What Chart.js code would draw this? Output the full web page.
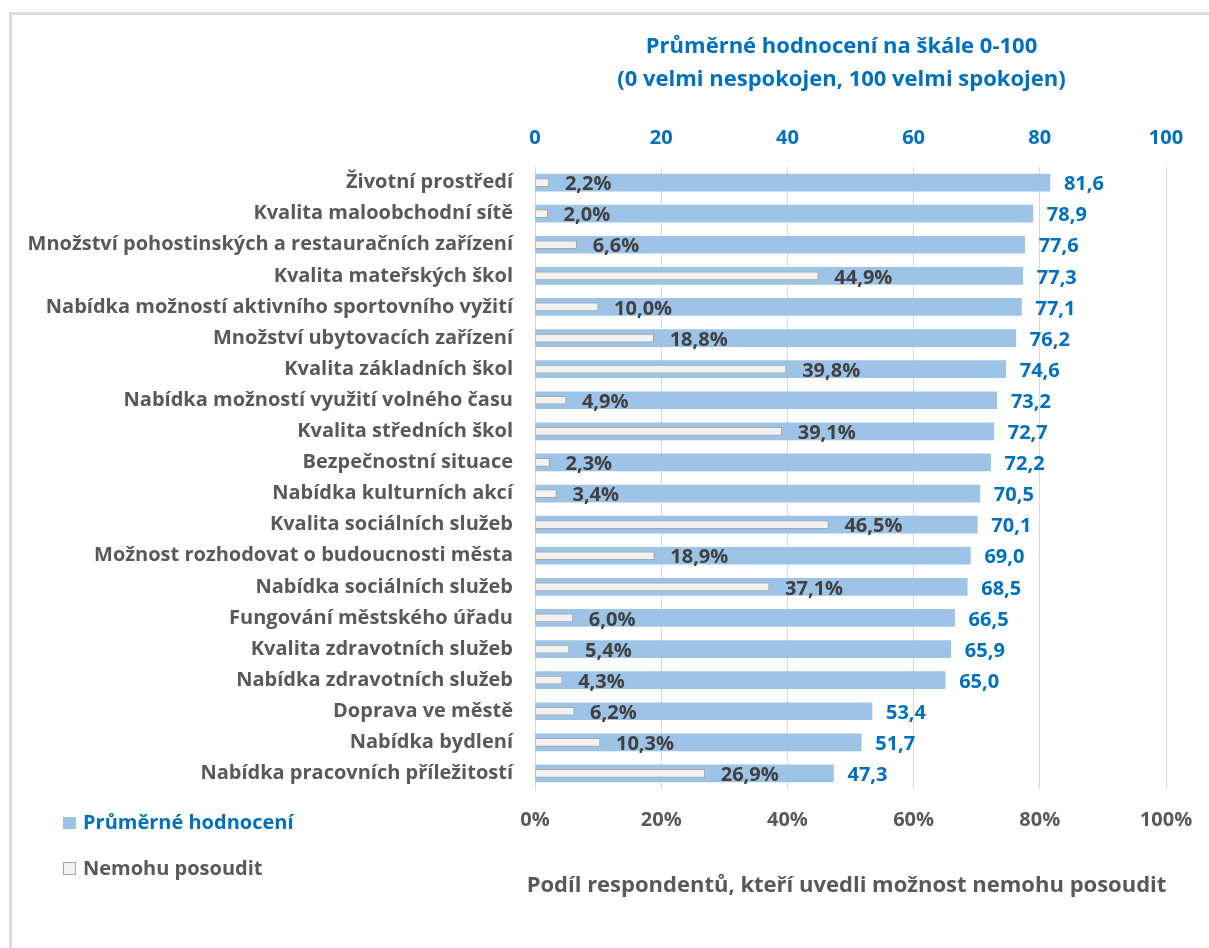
<!DOCTYPE html>
<html>
<head>
<meta charset="utf-8">
<script src="https://cdn.jsdelivr.net/npm/chart.js@4/dist/chart.umd.min.js"></script>
<style>
  html, body { margin: 0; padding: 0; background: #fff; }
  #wrap { position: relative; width: 1209px; height: 948px; overflow: hidden; }
  #frame { position: absolute; left: 9px; top: 12px; width: 1300px; height: 1000px;
           border-top: 3px solid #dcdcdc; border-left: 3px solid #dcdcdc; box-sizing: border-box; }
  canvas { position: absolute; left: 0; top: 0; }
</style>
</head>
<body>
<div id="wrap">
  <div id="frame"></div>
  <canvas id="c" width="1209" height="948"></canvas>
</div>
<script>
const categories = [
  "Životní prostředí",
  "Kvalita maloobchodní sítě",
  "Množství pohostinských a restauračních zařízení",
  "Kvalita mateřských škol",
  "Nabídka možností aktivního sportovního vyžití",
  "Množství ubytovacích zařízení",
  "Kvalita základních škol",
  "Nabídka možností využití volného času",
  "Kvalita středních škol",
  "Bezpečnostní situace",
  "Nabídka kulturních akcí",
  "Kvalita sociálních služeb",
  "Možnost rozhodovat o budoucnosti města",
  "Nabídka sociálních služeb",
  "Fungování městského úřadu",
  "Kvalita zdravotních služeb",
  "Nabídka zdravotních služeb",
  "Doprava ve městě",
  "Nabídka bydlení",
  "Nabídka pracovních příležitostí"
];
const ratings = [81.6, 78.9, 77.6, 77.3, 77.1, 76.2, 74.6, 73.2, 72.7, 72.2, 70.5, 70.1, 69.0, 68.5, 66.5, 65.9, 65.0, 53.4, 51.7, 47.3];
const cannotJudge = [2.2, 2.0, 6.6, 44.9, 10.0, 18.8, 39.8, 4.9, 39.1, 2.3, 3.4, 46.5, 18.9, 37.1, 6.0, 5.4, 4.3, 6.2, 10.3, 26.9];
const topTicks = [0, 20, 40, 60, 80, 100];
const bottomTicks = ["0%", "20%", "40%", "60%", "80%", "100%"];
const seriesNames = ["Průměrné hodnocení", "Nemohu posoudit"];
const titleLines = ["Průměrné hodnocení na škále 0-100", "(0 velmi nespokojen, 100 velmi spokojen)"];
const bottomTitle = "Podíl respondentů, kteří uvedli možnost nemohu posoudit";

const FONT = "'Open Sans'";
const BLUE = "#0070c0";
const GRAY = "#595959";
const DARK = "#404040";

const fmt = v => v.toFixed(1).replace('.', ',');

const labelsPlugin = {
  id: 'labels',
  afterDatasetsDraw(chart) {
    const ctx = chart.ctx;
    ctx.save();
    ctx.textBaseline = 'middle';
    ctx.textAlign = 'left';
    const m0 = chart.getDatasetMeta(0);
    ctx.font = `bold 20px ${FONT}`;
    ctx.fillStyle = BLUE;
    m0.data.forEach((el, i) => {
      ctx.fillText(fmt(ratings[i]), el.x + 14, el.y + 2);
    });
    const m1 = chart.getDatasetMeta(1);
    ctx.fillStyle = DARK;
    m1.data.forEach((el, i) => {
      ctx.fillText(fmt(cannotJudge[i]) + '%', el.x + 16, el.y + 2);
    });
    ctx.restore();
  },
  afterDraw(chart) {
    const ctx = chart.ctx;
    const a = chart.chartArea;
    const cx = (a.left + a.right) / 2;
    ctx.save();
    ctx.textAlign = 'center';
    ctx.textBaseline = 'middle';
    ctx.font = `bold 22px ${FONT}`;
    ctx.fillStyle = BLUE;
    ctx.fillText(titleLines[0], cx - 9, a.top - 120);
    ctx.fillText(titleLines[1], cx - 9, a.top - 87);
    ctx.fillStyle = GRAY;
    ctx.fillText(bottomTitle, cx - 4, a.bottom + 97);
    // legend
    ctx.textAlign = 'left';
    ctx.font = `bold 20px ${FONT}`;
    ctx.fillStyle = '#9dc3e6';
    ctx.fillRect(63, 817, 13, 12);
    ctx.fillStyle = BLUE;
    ctx.fillText(seriesNames[0], 83, 823);
    ctx.fillStyle = '#f2f2f2';
    ctx.fillRect(63.5, 862.5, 12, 12);
    ctx.strokeStyle = '#a6a6a6';
    ctx.lineWidth = 1;
    ctx.strokeRect(63.5, 862.5, 12, 12);
    ctx.fillStyle = GRAY;
    ctx.fillText(seriesNames[1], 83, 869);
    ctx.restore();
  }
};

new Chart(document.getElementById('c'), {
  type: 'bar',
  data: {
    labels: categories,
    datasets: [
      {
        label: seriesNames[0],
        data: ratings,
        xAxisID: 'x',
        backgroundColor: '#9dc3e6',
        barThickness: 17,
        grouped: false,
        order: 2
      },
      {
        label: seriesNames[1],
        data: cannotJudge,
        xAxisID: 'x2',
        backgroundColor: '#f2f2f2',
        borderColor: '#a6a6a6',
        borderWidth: 1,
        borderSkipped: false,
        barThickness: 8,
        grouped: false,
        order: 1
      }
    ]
  },
  options: {
    indexAxis: 'y',
    responsive: false,
    animation: false,
    layout: { padding: { left: 0, right: 43, top: 0, bottom: 0 } },
    plugins: { legend: { display: false }, tooltip: { enabled: false }, title: { display: false } },
    scales: {
      x: {
        position: 'top',
        min: 0, max: 100,
        afterBuildTicks: s => { s.ticks = topTicks.map(v => ({ value: v })); },
        ticks: { color: BLUE, font: { family: FONT, size: 20, weight: 'bold' }, padding: 17, maxRotation: 0 },
        grid: { color: '#d9d9d9', drawTicks: false, lineWidth: 1 },
        border: { display: false },
        afterFit: s => { s.height = 167; s.paddingRight = 0; s.paddingLeft = 0; }
      },
      x2: {
        position: 'bottom',
        min: 0, max: 100,
        afterBuildTicks: s => { s.ticks = [0, 20, 40, 60, 80, 100].map(v => ({ value: v })); },
        ticks: {
          color: GRAY, font: { family: FONT, size: 20, weight: 'bold' }, padding: 19, maxRotation: 0,
          callback: (v, i) => bottomTicks[i]
        },
        grid: { display: false, drawTicks: false },
        border: { display: false },
        afterFit: s => { s.height = 159; s.paddingRight = 0; s.paddingLeft = 0; }
      },
      y: {
        ticks: { color: GRAY, font: { family: FONT, size: 20, weight: 'bold' }, padding: 22, autoSkip: false },
        grid: { display: false, drawTicks: false },
        border: { display: true, color: '#d9d9d9', width: 1 },
        afterFit: s => { s.width = 535; }
      }
    }
  },
  plugins: [labelsPlugin]
});
</script>
</body>
</html>
